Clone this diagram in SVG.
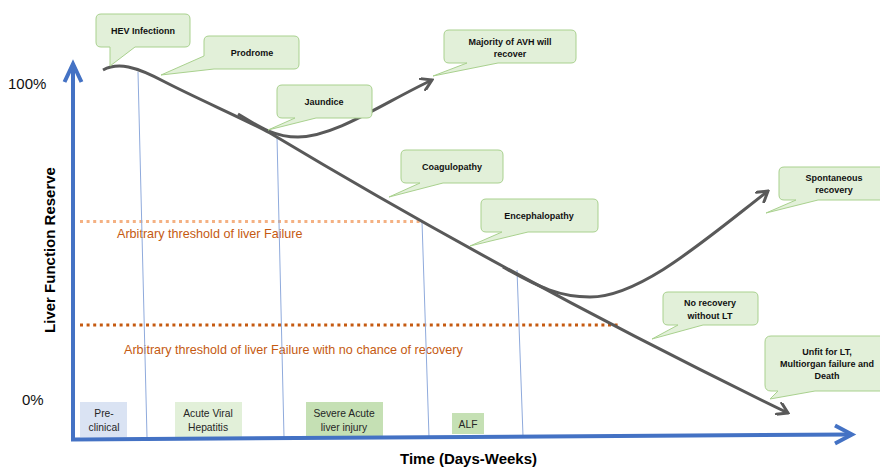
<svg xmlns="http://www.w3.org/2000/svg" width="880" height="467" viewBox="0 0 880 467">
<style>
.co{fill:#E2F0D9;stroke:#A9D18E;stroke-width:1}
.ct{font-family:"Liberation Sans",Arial,sans-serif;font-weight:bold;font-size:9px;fill:#111;text-anchor:middle}
.pt{font-family:"Liberation Sans",Arial,sans-serif;font-size:10.3px;fill:#262626;text-anchor:middle}
.th{font-family:"Liberation Sans",Arial,sans-serif;font-size:12.6px;fill:#C55A11}
.ax{font-family:"Liberation Sans",Arial,sans-serif;font-size:15px;fill:#111}
.axb{font-family:"Liberation Sans",Arial,sans-serif;font-size:15px;font-weight:bold;fill:#000}
.vl{stroke:#8FAADC;stroke-width:1;fill:none}
.cv{stroke:#595959;stroke-width:3;fill:none}
</style>
<defs>
<marker id="arr" viewBox="0 0 14 14" refX="12" refY="7" markerWidth="14" markerHeight="14" markerUnits="userSpaceOnUse" orient="auto">
<path d="M2,0.8 L12,7 L2,13.2" fill="none" stroke="#595959" stroke-width="3" stroke-linecap="round"/>
</marker>
</defs>

<g id="phases">
<rect x="80" y="402" width="47" height="35" fill="#DAE3F3"/>
<text class="pt" x="104" y="417">Pre-</text>
<text class="pt" x="104" y="431">clinical</text>
<rect x="175" y="402" width="67" height="35" fill="#E2F0D9"/>
<text class="pt" x="208" y="417">Acute Viral</text>
<text class="pt" x="208" y="431">Hepatitis</text>
<rect x="306" y="402" width="77" height="35" fill="#C5E0B4"/>
<text class="pt" x="344" y="417">Severe Acute</text>
<text class="pt" x="344" y="431">liver injury</text>
<rect x="452" y="413" width="32" height="21" fill="#C5E0B4"/>
<text class="pt" x="468" y="428">ALF</text>
</g>

<g id="thresholds">
<line x1="80" y1="221.5" x2="422" y2="221.5" stroke="#F4B183" stroke-width="3" stroke-dasharray="3 3.6"/>
<text class="th" x="117" y="238">Arbitrary threshold of liver Failure</text>
<line x1="80" y1="325" x2="618" y2="325" stroke="#C55A11" stroke-width="3" stroke-dasharray="3 3.6"/>
<text class="th" x="124" y="354">Arbitrary threshold of liver Failure with no chance of recovery</text>
</g>

<g id="connectors">
<line class="vl" x1="138" y1="72" x2="147" y2="437"/>
<line class="vl" x1="277" y1="137" x2="284" y2="437"/>
<line class="vl" x1="422" y1="221" x2="429" y2="437"/>
<line class="vl" x1="517" y1="270" x2="523" y2="436"/>
<path class="cv" d="M103,70 C118,62 135,66 165,82 C200,100 242,118 270,133 Q520,283 788,413" marker-end="url(#arr)"/>
<path class="cv" d="M238,114 C255,124 272,137 298,137 C335,137 385,102 432,80" marker-end="url(#arr)"/>
<path class="cv" d="M503,267 C540,288 560,297 590,297 C640,297 705,240 768,191" marker-end="url(#arr)"/>
</g>

<g id="axes">
<path d="M73,66 V439.5 L850,434.5" fill="none" stroke="#4472C4" stroke-width="4"/>
<path d="M64.5,82 L73,64 L81.5,82" fill="none" stroke="#4472C4" stroke-width="4" stroke-linejoin="miter"/>
<path d="M835,425.5 L852,434.5 L835,443.5" fill="none" stroke="#4472C4" stroke-width="4" stroke-linejoin="miter"/>
<text class="ax" x="8" y="89">100%</text>
<text class="ax" x="22" y="405">0%</text>
<text class="axb" x="0" y="0" text-anchor="middle" font-size="14.5" transform="translate(54.5,250) rotate(-90)">Liver Function Reserve</text>
<text class="axb" x="400" y="464">Time (Days-Weeks)</text>
</g>

<g id="hev">
<path class="co" d="M101,14 H185 Q190,14 190,19 V42 Q190,47 185,47 H135 L110,66 L110,47 H101 Q96,47 96,42 V19 Q96,14 101,14 Z"/>
<text class="ct" x="143" y="34">HEV Infectionn</text>
</g>
<g id="prodrome">
<path class="co" d="M209,36 H294 Q299,36 299,41 V64 Q299,69 294,69 H214 L161,75 L204,56 V41 Q204,36 209,36 Z"/>
<text class="ct" x="252" y="56">Prodrome</text>
</g>
<g id="majority">
<path class="co" d="M449,30 H571 Q576,30 576,35 V58 Q576,63 571,63 H498 L433,76 L467,63 H449 Q444,63 444,58 V35 Q444,30 449,30 Z"/>
<text class="ct" x="510" y="45">Majority of AVH will</text>
<text class="ct" x="510" y="57">recover</text>
</g>
<g id="jaundice">
<path class="co" d="M282,85 H367 Q372,85 372,90 V113 Q372,118 367,118 H316 L268,130 L295,118 H282 Q277,118 277,113 V90 Q277,85 282,85 Z"/>
<text class="ct" x="324" y="105">Jaundice</text>
</g>
<g id="coagulopathy">
<path class="co" d="M406,150 H498 Q503,150 503,155 V178 Q503,183 498,183 H443 L389,197 L420,183 H406 Q401,183 401,178 V155 Q401,150 406,150 Z"/>
<text class="ct" x="452" y="170">Coagulopathy</text>
</g>
<g id="encephalopathy">
<path class="co" d="M486,199 H593 Q598,199 598,204 V227 Q598,232 593,232 H528 L470,246 L502,232 H486 Q481,232 481,227 V204 Q481,199 486,199 Z"/>
<text class="ct" x="539" y="219">Encephalopathy</text>
</g>
<g id="spontaneous">
<path class="co" d="M784,167 H890 V200 H818 L766,213 L796,200 H784 Q779,200 779,195 V172 Q779,167 784,167 Z"/>
<text class="ct" x="834" y="181">Spontaneous</text>
<text class="ct" x="834" y="193">recovery</text>
</g>
<g id="norecovery">
<path class="co" d="M668,292 H753 Q758,292 758,297 V320 Q758,325 753,325 H703 L652,339 L678,325 H668 Q663,325 663,320 V297 Q663,292 668,292 Z"/>
<text class="ct" x="710" y="306">No recovery</text>
<text class="ct" x="710" y="319">without LT</text>
</g>
<g id="unfit">
<path class="co" d="M771,336 H890 V391 H815 L770,399 L778,391 H771 Q765,391 765,385 V342 Q765,336 771,336 Z"/>
<text class="ct" x="827" y="355">Unfit for LT,</text>
<text class="ct" x="827" y="367">Multiorgan failure and</text>
<text class="ct" x="827" y="379">Death</text>
</g>
</svg>
